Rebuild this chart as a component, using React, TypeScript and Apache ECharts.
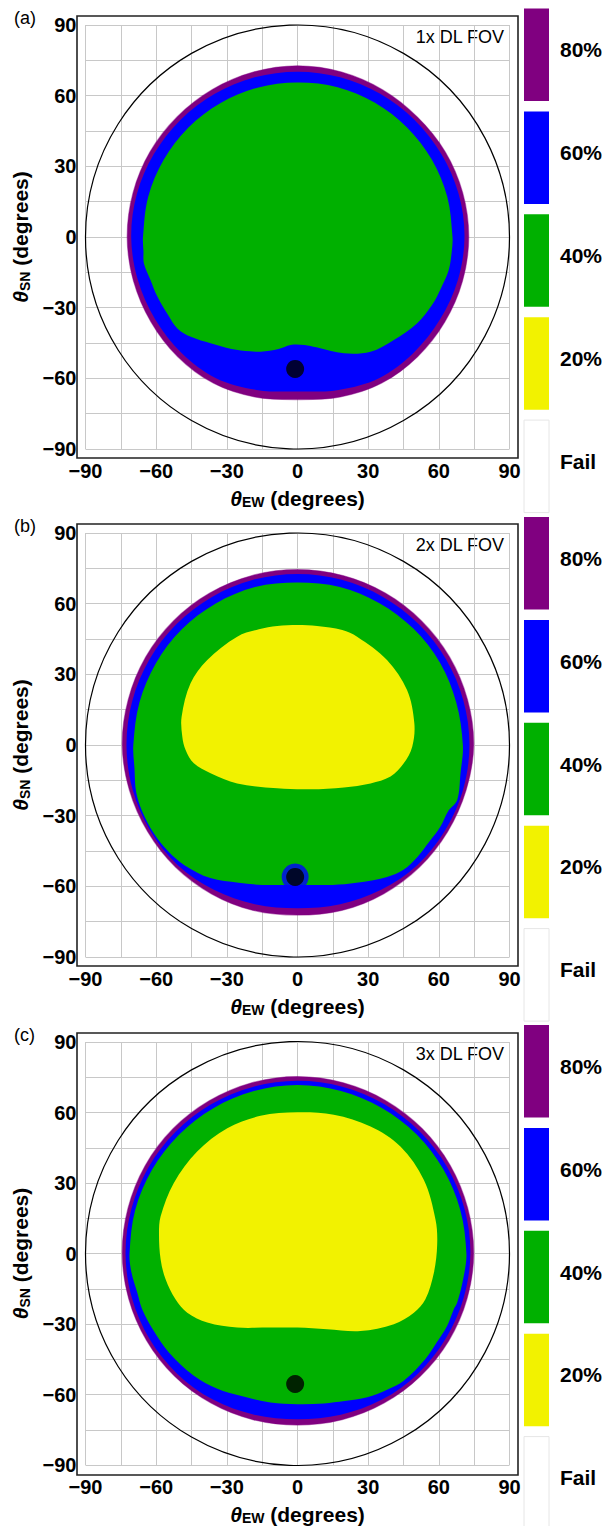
import React, { useEffect, useRef } from "react";
import * as echarts from "echarts";

// ---------- data (degrees) ----------
const TICKS = [-90, -60, -30, 0, 30, 60, 90];
const HORIZON = 90;
const ANGLES = [0, 15, 30, 45, 60, 75, 90, 105, 120, 135, 150, 165, 180, 195, 210, 225, 240, 255, 270, 285, 300, 315, 330, 345];

// panel (a) 1x DL FOV
const A_PURPLE_R = [72.7, 72.6, 72.4, 72.0, 72.2, 72.5, 72.7, 72.5, 72.3, 72.2, 72.3, 72.3, 72.3, 72.1, 71.9, 71.9, 71.6, 70.3, 69.0, 70.3, 71.6, 72.0, 72.2, 72.5];
const A_BLUE_R = [70.9, 70.8, 70.5, 70.3, 70.2, 70.2, 70.2, 70.2, 70.2, 70.3, 70.4, 70.6, 70.6, 70.2, 69.8, 69.6, 69.2, 67.2, 65.6, 67.2, 69.2, 69.6, 69.9, 70.5];
const A_GREEN = [
  [65.8, 0], [63.6, 17.0], [57.0, 32.9], [46.5, 46.5], [32.9, 57.0], [17.0, 63.6], [0, 65.6],
  [-17.0, 63.4], [-32.8, 56.8], [-46.4, 46.4], [-56.8, 32.8], [-63.4, 17.0], [-65.6, 0],
  [-65.4, -6], [-65.2, -11.2], [-62.5, -18], [-59.5, -25.3], [-55, -33], [-51, -38.8], [-45, -42.5],
  [-36.9, -45.1], [-28, -47.5], [-20, -48.5], [-15.7, -48.7], [-8, -47.5], [-3, -45.8], [3, -45.8],
  [8, -46.8], [19.7, -49.4], [31, -48.7], [40.9, -43.7], [50.8, -36.6], [57.1, -28.9], [61, -21.5],
  [64.2, -14], [65.5, -6],
];

// panel (b) 2x DL FOV
const B_PURPLE_R = [74.8, 74.7, 74.6, 74.5, 74.5, 74.5, 74.5, 74.5, 74.5, 74.5, 74.5, 74.4, 74.4, 73.9, 73.5, 73.3, 73.0, 72.7, 72.2, 72.7, 73.0, 73.3, 73.6, 74.1];
const B_BLUE_R = [73.0, 72.9, 72.8, 72.7, 72.6, 72.6, 72.6, 72.6, 72.6, 72.6, 72.6, 72.6, 72.6, 72.5, 72.3, 72.0, 71.0, 70.0, 69.3, 70.0, 71.0, 72.0, 72.4, 72.8];
const B_GREEN = [
  [70.2, 0], [67.4, 18.0], [60.5, 34.9], [49.3, 49.3], [34.8, 60.2], [18.0, 67.1], [0, 69.0],
  [-18.0, 67.1], [-34.7, 60.1], [-49.1, 49.1], [-60.1, 34.7], [-67.1, 18.0], [-69.7, 0],
  [-69.2, -10], [-68.5, -20], [-66, -28], [-61, -37.5], [-55, -45], [-48, -51], [-37, -56.5],
  [-25, -58.5], [-15, -59.4], [0, -59.4], [15, -59.4], [25, -58.5], [38, -56], [45, -53],
  [51, -47.4], [56, -41], [60.7, -34.6], [64, -28], [67.8, -23.3], [69.2, -12],
];
const B_YELLOW = [
  [-16.4, 49.1], [-8.6, 50.5], [0, 50.9], [8.3, 50.5], [19.0, 48.8], [25.3, 46.0], [38.0, 36.1],
  [46.5, 23.3], [49.6, 9.2], [48.7, -0.7], [45.1, -7.8], [39.5, -13.4], [31.0, -16.3], [19.7, -18.0],
  [5.5, -18.8], [-8.6, -18.4], [-25.6, -16.3], [-36.9, -12.0], [-44.0, -7.8], [-47.5, -2.1],
  [-48.9, 3.5], [-49.2, 12.0], [-45.4, 26.2], [-38.3, 36.1], [-25.6, 46.0],
];

// panel (c) 3x DL FOV
const C_PURPLE_R = [74.8, 74.8, 74.9, 75.0, 75.1, 75.2, 75.3, 75.2, 75.0, 74.9, 74.7, 74.5, 74.4, 74.2, 74.0, 73.8, 73.5, 73.2, 73.0, 73.2, 73.5, 73.8, 74.2, 74.5];
const C_BLUE_R = [73.4, 73.4, 73.4, 73.4, 73.5, 73.5, 73.5, 73.4, 73.3, 73.2, 73.1, 73.0, 73.0, 72.8, 72.6, 72.3, 71.8, 71.0, 70.5, 71.0, 71.8, 72.3, 72.6, 73.0];
const C_GREEN = [
  [71.7, 0], [69.1, 18.5], [61.9, 35.8], [50.6, 50.6], [35.8, 61.9], [18.5, 69.1], [0, 71.7],
  [-18.5, 69.1], [-35.7, 61.8], [-50.4, 50.4], [-61.7, 35.7], [-68.9, 18.5], [-71.3, 0],
  [-70.5, -8], [-68, -16.7], [-65.9, -23.8], [-61, -33], [-54.6, -42.1], [-44, -52], [-34, -57.5],
  [-24.2, -60.5], [-11.5, -63.4], [0, -64.1], [11.2, -63.8], [20, -62.8], [29.6, -61.2], [38, -58],
  [45.1, -54.2], [54.3, -44.9], [59, -38], [63.5, -30.8], [66.3, -23.8], [67.8, -20.9], [70.5, -10],
];
const C_YELLOW = [
  [0, 60.1], [15.4, 59.0], [31.0, 54.0], [43.7, 45.5], [53.6, 31.4], [58.6, 14.4], [59.3, 3.8],
  [57.9, -8.2], [54.3, -19.5], [49.4, -25.2], [40.9, -30.1], [26.7, -33.0], [12.6, -32.2], [0, -31.5],
  [-11.5, -31.5], [-25.6, -31.5], [-38.3, -29.4], [-46.8, -25.2], [-51.8, -19.5], [-56.0, -11.0],
  [-58.1, -2.5], [-58.8, 8.1], [-58.1, 15.8], [-52.5, 30.0], [-42.6, 43.4], [-29.8, 53.3], [-15.7, 58.6],
];

const DOTS = [[-1, -56], [-1, -56], [-1, -55.5]];
const PANEL_LABELS = ["(a)", "(b)", "(c)"];
const FOV_LABELS = ["1x DL FOV", "2x DL FOV", "3x DL FOV"];
const LEVELS = ["80%", "60%", "40%", "20%", "Fail"];
const LEVEL_COLORS = ["#800080", "#0000ff", "#00b000", "#f2f200", "#ffffff"];

// ---------- layout ----------
const FONT = "'Liberation Sans', Arial, Helvetica, sans-serif";
const GRID_LEFT = 85.5;
const GRID_SIZE = 424;
const GRID_TOPS = [25, 533, 1042];
const BAR_TOPS = [8.5, 517, 1025];
const BAR_PITCH = 102.9;
const BAR_H = 92.5;
const SMOOTH = 0.34;

function polar(r: number[]): number[][] {
  return ANGLES.map((a, i) => [r[i] * Math.cos((a * Math.PI) / 180), r[i] * Math.sin((a * Math.PI) / 180)]);
}

const PANELS = [
  { purple: polar(A_PURPLE_R), blue: polar(A_BLUE_R), green: A_GREEN, yellow: null as number[][] | null, halo: false },
  { purple: polar(B_PURPLE_R), blue: polar(B_BLUE_R), green: B_GREEN, yellow: B_YELLOW, halo: true },
  { purple: polar(C_PURPLE_R), blue: polar(C_BLUE_R), green: C_GREEN, yellow: C_YELLOW, halo: false },
];

function fmt(v: number): string {
  if (v % 30 !== 0) return "";
  return v < 0 ? "\u2212" + Math.abs(v) : String(v);
}

function polygonSeries(pts: number[][], color: string, idx: number, z: number, stroke?: string) {
  return {
    type: "custom",
    xAxisIndex: idx,
    yAxisIndex: idx,
    z,
    silent: true,
    clip: true,
    data: [[0, 0]],
    renderItem: (_p: any, api: any) => ({
      type: "polygon",
      shape: { points: pts.map((p) => api.coord(p)), smooth: SMOOTH },
      style: { fill: color, stroke: stroke || "none", lineWidth: stroke ? 1.2 : 0 },
    }),
  };
}

const nameRich = {
  t: { fontSize: 21, fontWeight: "bold", fontStyle: "italic", fontFamily: FONT, color: "#000" },
  s: { fontSize: 14, fontWeight: "bold", fontFamily: FONT, color: "#000", padding: [8, 0, 0, 0] },
  n: { fontSize: 21, fontWeight: "bold", fontFamily: FONT, color: "#000" },
};

function buildOption() {
  const grid: any[] = [];
  const xAxis: any[] = [];
  const yAxis: any[] = [];
  const series: any[] = [];
  const graphic: any[] = [];

  GRID_TOPS.forEach((top, i) => {
    grid.push({ left: GRID_LEFT, top, width: GRID_SIZE, height: GRID_SIZE });
    const common = {
      type: "value",
      gridIndex: i,
      min: TICKS[0],
      max: TICKS[TICKS.length - 1],
      interval: 15,
      axisLine: { show: false },
      axisTick: { show: false },
      splitLine: { show: true, lineStyle: { color: "#c8c8c8", width: 1 } },
      nameLocation: "middle",
      nameTextStyle: { rich: nameRich },
    };
    xAxis.push({
      ...common,
      axisLabel: { formatter: fmt, fontSize: 20, fontWeight: "bold", color: "#000", fontFamily: FONT, margin: 12 },
      name: "{t|θ}{s|EW}{n| (degrees)}",
      nameGap: 38,
    });
    yAxis.push({
      ...common,
      axisLabel: { formatter: fmt, fontSize: 20, fontWeight: "bold", color: "#000", fontFamily: FONT, margin: 9 },
      name: "{t|θ}{s|SN}{n| (degrees)}",
      nameRotate: 90,
      nameGap: 51,
    });

    const p = PANELS[i];
    series.push(polygonSeries(p.purple, LEVEL_COLORS[0], i, 2, "rgba(128,0,128,0.45)"));
    series.push(polygonSeries(p.blue, LEVEL_COLORS[1], i, 3));
    series.push(polygonSeries(p.green, LEVEL_COLORS[2], i, 4));
    if (p.yellow) series.push(polygonSeries(p.yellow, LEVEL_COLORS[3], i, 5));
    series.push({
      type: "custom",
      xAxisIndex: i,
      yAxisIndex: i,
      z: 6,
      silent: true,
      data: [[0, 0]],
      renderItem: (_p: any, api: any) => {
        const c = api.coord([0, 0]);
        const s = api.size([HORIZON, HORIZON]);
        return { type: "circle", shape: { cx: c[0], cy: c[1], r: s[0] }, style: { fill: "none", stroke: "#000", lineWidth: 1.2 } };
      },
    });
    if (p.halo) {
      series.push({
        type: "scatter", xAxisIndex: i, yAxisIndex: i, z: 7, silent: true,
        data: [DOTS[i]], symbolSize: 27, itemStyle: { color: LEVEL_COLORS[1] },
      });
    }
    series.push({
      type: "scatter", xAxisIndex: i, yAxisIndex: i, z: 8, silent: true,
      data: [DOTS[i]], symbolSize: 18, itemStyle: { color: "#000" },
    });

    // frame
    graphic.push({
      type: "rect",
      shape: { x: 77, y: top - 9, width: 441, height: 442 },
      style: { fill: "none", stroke: "#222", lineWidth: 1.6 },
      silent: true,
    });
    graphic.push({
      type: "text", x: 14, y: top - 7.5, silent: true,
      style: { text: PANEL_LABELS[i], fontSize: 18, fontFamily: FONT, fill: "#000", textAlign: "left", textVerticalAlign: "middle", align: "left", verticalAlign: "middle" },
    });
    graphic.push({
      type: "text", x: 504, y: top + 12, silent: true,
      style: { text: FOV_LABELS[i], fontSize: 18, fontFamily: FONT, fill: "#000", textAlign: "right", textVerticalAlign: "middle", align: "right", verticalAlign: "middle" },
    });
    // legend
    LEVELS.forEach((lab, k) => {
      const y = BAR_TOPS[i] + k * BAR_PITCH;
      graphic.push({
        type: "rect", silent: true,
        shape: { x: 524, y, width: 25, height: BAR_H },
        style: { fill: LEVEL_COLORS[k], stroke: k === 4 ? "#e6e6e6" : "none", lineWidth: 1 },
      });
      graphic.push({
        type: "text", x: 560, y: y + BAR_H / 2 - 5, silent: true,
        style: { text: lab, fontSize: 21, fontWeight: "bold", fontFamily: FONT, fill: "#000", textAlign: "left", textVerticalAlign: "middle", align: "left", verticalAlign: "middle" },
      });
    });
  });

  return { animation: false, backgroundColor: "#fff", grid, xAxis, yAxis, series, graphic };
}

export default function App() {
  const ref = useRef<HTMLDivElement>(null);
  useEffect(() => {
    if (!ref.current) return;
    const chart = echarts.init(ref.current, null, { renderer: "svg" });
    chart.setOption(buildOption() as any);
    return () => chart.dispose();
  }, []);
  return <div ref={ref} style={{ position: "absolute", left: 0, top: 0, width: 615, height: 1526 }} />;
}
